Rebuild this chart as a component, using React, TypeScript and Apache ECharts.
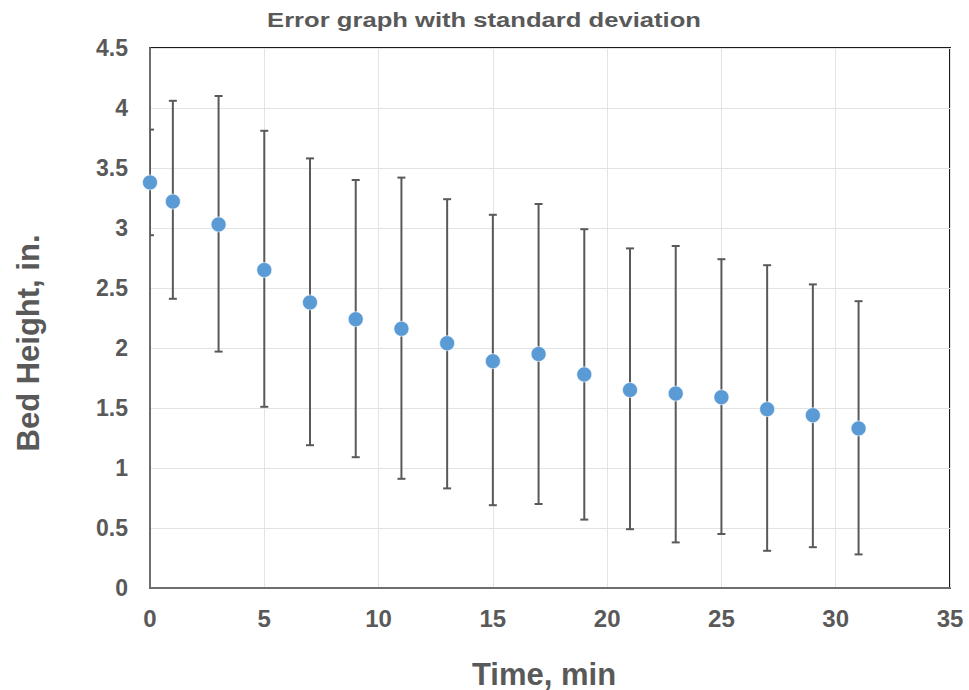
import React, { useEffect, useRef } from "react";
import * as echarts from "echarts";

const times = [0, 1, 3, 5, 7, 9, 11, 13, 15, 17, 19, 21, 23, 25, 27, 29, 31];
const meanHeight = [3.38, 3.22, 3.03, 2.65, 2.38, 2.24, 2.16, 2.04, 1.89, 1.95, 1.78, 1.65, 1.62, 1.59, 1.49, 1.44, 1.33];
const upperBound = [3.82, 4.06, 4.10, 3.81, 3.58, 3.40, 3.42, 3.24, 3.11, 3.20, 2.99, 2.83, 2.85, 2.74, 2.69, 2.53, 2.39];
const lowerBound = [2.94, 2.41, 1.97, 1.51, 1.19, 1.09, 0.91, 0.83, 0.69, 0.70, 0.57, 0.49, 0.38, 0.45, 0.31, 0.34, 0.28];

const titleText = "Error graph with standard deviation";
const xTitle = "Time, min";
const yTitle = "Bed Height, in.";

export default function App() {
  const ref = useRef<HTMLDivElement>(null);
  useEffect(() => {
    if (!ref.current) return;
    const chart = echarts.init(ref.current, null, { renderer: "svg" });
    const errData = times.map((t, i) => [t, lowerBound[i], upperBound[i]]);
    const scatterData = times.map((t, i) => [t, meanHeight[i]]);
    const labelColor = "#595959";
    const fam = "'Liberation Sans', Arial, sans-serif";
    chart.setOption({
      animation: false,
      backgroundColor: "#ffffff",
      graphic: [
        {
          type: "text",
          x: 484,
          y: 9,
          scaleX: 1.22,
          style: {
            text: titleText,
            font: `bold 21px ${fam}`,
            fill: labelColor,
            textAlign: "center",
            textVerticalAlign: "top",
          },
        },
        {
          type: "text",
          x: 544,
          y: 674,
          style: {
            text: xTitle,
            font: `bold 31px ${fam}`,
            fill: labelColor,
            textAlign: "center",
            textVerticalAlign: "middle",
          },
        },
        {
          type: "text",
          x: 28,
          y: 343,
          rotation: Math.PI / 2,
          style: {
            text: yTitle,
            font: `bold 31px ${fam}`,
            fill: labelColor,
            textAlign: "center",
            textVerticalAlign: "middle",
          },
        },
      ],
      grid: {
        left: 150,
        right: 19,
        top: 48,
        bottom: 102,
        show: true,
        borderColor: "#1a1a1a",
        borderWidth: 2,
        backgroundColor: "transparent",
      },
      xAxis: {
        type: "value",
        min: 0,
        max: 35,
        interval: 5,
        axisLine: { show: true, lineStyle: { color: "#6e6e6e", width: 2 } },
        axisTick: { show: false },
        axisLabel: {
          color: labelColor,
          fontFamily: fam,
          fontWeight: "bold",
          fontSize: 24,
          margin: 18,
        },
        splitLine: { show: true, lineStyle: { color: "#e3e3e3", width: 1 } },
      },
      yAxis: {
        type: "value",
        min: 0,
        max: 4.5,
        interval: 0.5,
        axisLine: { show: true, lineStyle: { color: "#6e6e6e", width: 2 } },
        axisTick: { show: false },
        axisLabel: {
          color: labelColor,
          fontFamily: fam,
          fontWeight: "bold",
          fontSize: 23,
          margin: 22,
        },
        splitLine: { show: true, lineStyle: { color: "#e3e3e3", width: 1 } },
      },
      series: [
        {
          type: "custom",
          name: "std",
          data: errData,
          z: 2,
          clip: true,
          renderItem: (params: any, api: any) => {
            const x = api.value(0);
            const lo = api.coord([x, api.value(1)]);
            const hi = api.coord([x, api.value(2)]);
            const half = 4;
            const style = { stroke: "#595959", lineWidth: 2 };
            return {
              type: "group",
              children: [
                { type: "line", shape: { x1: hi[0], y1: hi[1], x2: lo[0], y2: lo[1] }, style },
                { type: "line", shape: { x1: hi[0] - half, y1: hi[1], x2: hi[0] + half, y2: hi[1] }, style },
                { type: "line", shape: { x1: lo[0] - half, y1: lo[1], x2: lo[0] + half, y2: lo[1] }, style },
              ],
            };
          },
          encode: { x: 0, y: [1, 2] },
        },
        {
          type: "scatter",
          name: "mean",
          data: scatterData,
          symbol: "circle",
          symbolSize: 15,
          z: 3,
          itemStyle: { color: "#5B9BD5", borderColor: "#ffffff", borderWidth: 0.6, opacity: 1 },
        },
      ],
    });
    return () => chart.dispose();
  }, []);
  return (
    <div
      ref={ref}
      style={{ position: "fixed", left: 0, top: 0, width: 969, height: 690 }}
    />
  );
}
